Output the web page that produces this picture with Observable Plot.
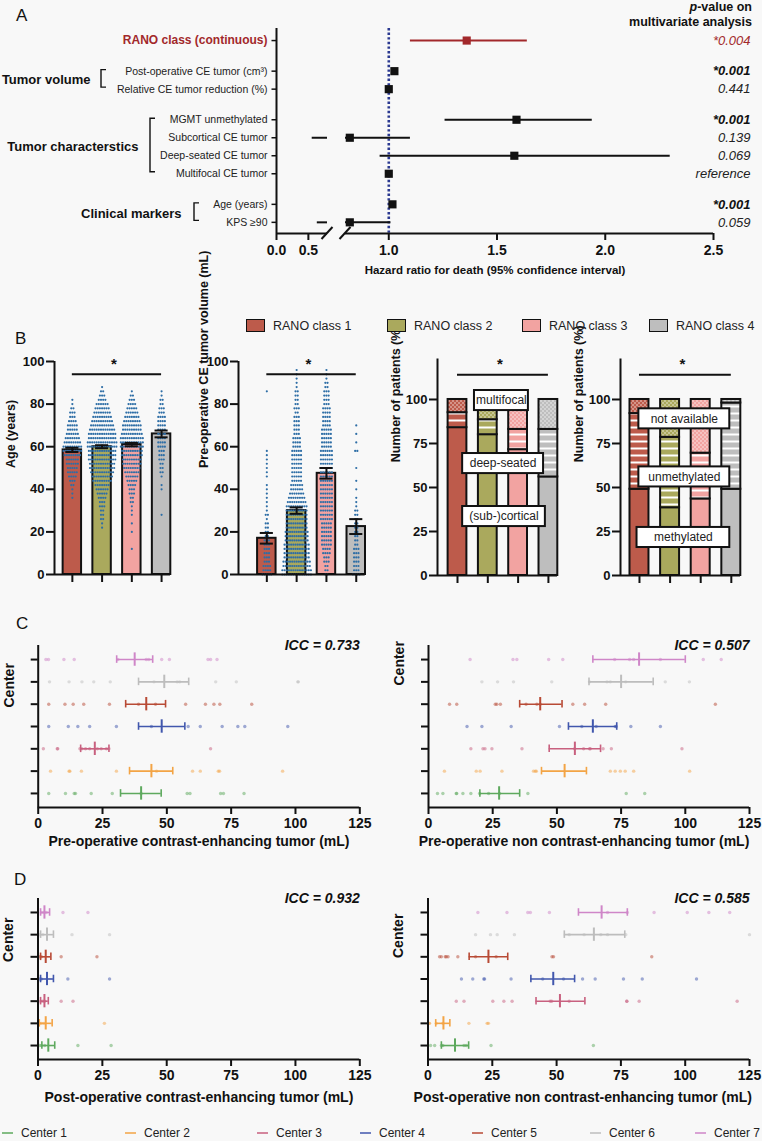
<!DOCTYPE html>
<html>
<head>
<meta charset="utf-8">
<script src="https://cdn.jsdelivr.net/npm/d3@7"></script>
<script src="https://cdn.jsdelivr.net/npm/@observablehq/plot@0.6"></script>
<style>
  html, body { margin: 0; padding: 0; background: #f8f8f8; }
  #fig { position: relative; width: 762px; height: 1141px; background: #f8f8f8; overflow: hidden;
         font-family: "Liberation Sans", Arial, Helvetica, sans-serif; color: #111; }
  .abs { position: absolute; white-space: nowrap; }
  .panel { font-size: 17px; line-height: 17px; }
</style>
</head>
<body>
<div id="fig"></div>
<script>
// ===================== DATA =====================
// ---- Panel A: multivariate Cox model ----
const rowLabels = ["RANO class (continuous)", "Post-operative CE tumor (cm³)", "Relative CE tumor reduction (%)",
  "MGMT unmethylated", "Subcortical CE tumor", "Deep-seated CE tumor", "Multifocal CE tumor", "Age (years)", "KPS ≥90"];
const rowGroups = ["RANO", "Tumor volume", "Tumor volume", "Tumor characterstics", "Tumor characterstics",
  "Tumor characterstics", "Tumor characterstics", "Clinical markers", "Clinical markers"];
const hazardRatio = [1.36, 1.026, 1.0, 1.59, 0.82, 1.58, 1.0, 1.017, 0.82];
const ciLower = [1.10, null, null, 1.26, 0.56, 0.96, null, null, 0.64];
const ciUpper = [1.64, null, null, 1.94, 1.10, 2.30, null, null, 1.01];
const pValues = ["*0.004", "*0.001", "0.441", "*0.001", "0.139", "0.069", "reference", "*0.001", "0.059"];
const hrTicks = [0, 0.5, 1.0, 1.5, 2.0, 2.5];

// ---- Panel B ----
const ranoClasses = ["RANO class 1", "RANO class 2", "RANO class 3", "RANO class 4"];
const ageMean = [58.5, 60, 61, 66];
const ageSem = [1.0, 0.7, 0.8, 1.6];
const ageBins = [12,14,16,18,20,22,24,26,28,30,32,34,36,38,40,42,44,46,48,50,52,54,56,58,60,62,64,66,68,70,72,74,76,78,80,82,84,86,88];
const ageCounts = [
  [0,0,0,0,0,0,0,0,0,0,0,0,1,1,1,2,3,4,5,5,6,6,8,9,9,8,7,6,5,5,4,3,3,2,1,1,0,0,0],
  [0,0,0,0,0,1,1,2,2,2,3,3,4,5,6,7,9,10,11,12,12,13,13,13,14,14,13,13,12,11,10,9,8,7,6,4,3,2,1],
  [1,0,0,0,1,0,1,0,1,1,1,2,2,3,3,4,5,6,7,8,9,9,10,10,11,11,11,10,9,9,8,7,6,5,4,3,2,1,0],
  [0,0,0,0,0,0,0,0,1,0,0,0,0,0,1,1,0,1,2,2,2,3,3,3,4,4,4,4,4,4,4,4,3,3,2,2,1,1,0]
];
const volMean = [17, 30, 47.5, 22.5];
const volSem = [2.5, 1.5, 2.5, 3.5];
const volBins = [0,2,4,6,8,10,12,14,16,18,20,22,24,26,28,30,32,34,36,38,40,42,44,46,48,50,52,54,56,58,60,62,64,66,68,70,72,74,76,78,80,82,84,86,88,90,92,94,96];
const volCounts = [
  [5,4,4,3,3,3,3,3,3,2,2,2,2,1,2,1,1,1,1,1,1,1,0,1,1,1,1,1,1,1,0,0,0,0,0,0,0,0,0,0,0,0,0,1,0,0,0,0,0],
  [14,14,13,13,12,12,12,12,11,11,11,10,10,10,10,10,10,9,8,7,6,6,5,5,5,5,5,5,5,5,4,4,4,3,3,3,3,3,2,3,2,2,2,2,1,1,1,1,1],
  [2,2,2,3,3,4,4,5,5,5,5,5,5,6,6,6,6,6,6,6,6,6,6,6,6,6,6,6,6,6,5,5,5,5,5,4,4,4,4,4,3,3,3,3,2,2,1,1,1],
  [4,3,3,3,3,3,3,2,2,2,2,2,2,2,2,2,1,1,1,0,1,0,1,0,0,1,0,0,0,2,0,1,0,1,0,1,0,0,0,0,0,0,0,0,0,0,0,0,0]
];
const locNames = ["(sub-)cortical", "deep-seated", "multifocal"];
const locCortical = [84, 80, 71.5, 56];
const locDeep = [8.5, 8.5, 11.5, 27];
const locMulti = [7.5, 11.5, 17, 17];
const mgmtNames = ["methylated", "unmethylated", "not available"];
const mgmtMeth = [49, 38.5, 43.5, 49];
const mgmtUnmeth = [43, 40, 26, 49];
const mgmtNA = [8, 21.5, 30.5, 2];

// ---- Panels C / D ----
const centers = ["Center 1", "Center 2", "Center 3", "Center 4", "Center 5", "Center 6", "Center 7"];
const volTicks = [0, 25, 50, 75, 100, 125];
const preCEPoints = [
  [4.1, 10.6, 14, 14.5, 20.6, 28.8, 40, 57.9, 59, 70.9, 72, 80],
  [4.8, 12, 12.3, 16.8, 30.4, 46, 60, 63, 70, 70.5, 95],
  [2, 7.4, 7.6, 16.2, 17, 18.4, 20, 23, 24.5, 26.5, 27.5, 67],
  [4.1, 11.7, 15.4, 20, 30.4, 44, 58.3, 63, 71.5, 77.6, 80.3, 97],
  [4.1, 10.4, 13.6, 17.7, 27.7, 39, 45.6, 57.3, 65, 68.3, 70.6, 83],
  [4.4, 12, 17, 21.6, 28, 45, 54, 55, 69, 77, 101, 101],
  [3, 4, 10, 14, 31, 42, 43, 48, 51, 66, 67, 69.5]
];
const preCEMean = [40, 44, 22, 48, 42, 49, 37.5];
const preCELow = [32, 35.5, 16.5, 39, 34, 39, 30.5];
const preCEHigh = [47.8, 52.3, 27.5, 57, 49.5, 58.5, 44.5];

const preNCEPoints = [
  [3.5, 5.6, 10.8, 11, 13.4, 16.5, 19.9, 23.4, 27.7, 38.7, 77, 84.2],
  [6.2, 18.6, 20.1, 28.6, 40.9, 41.6, 42, 70.8, 72.7, 74.7, 76.6, 79.9, 101.7],
  [16.5, 21.2, 22, 24.7, 36.4, 56.9, 60.4, 62.7, 63, 68, 71.2, 98.7],
  [15, 20.8, 32.2, 51, 59.7, 65.3, 72.7, 73.1, 78.8, 90.3],
  [8.2, 11, 26, 26.6, 28, 38, 42.2, 43.5, 56.2, 60.8, 69, 111.7],
  [20.8, 26.9, 33.1, 48, 62.7, 69.5, 70.8, 76.8, 92.2, 101.6],
  [16.2, 32.9, 34.4, 46.8, 52.3, 72.5, 78.3, 79.9, 90.3, 107, 114]
];
const preNCEMean = [27.5, 53, 57, 64, 43.5, 75, 82];
const preNCELow = [20, 44, 47, 54.5, 35.5, 62.5, 64];
const preNCEHigh = [35.5, 61.5, 67, 73.3, 52, 87.5, 100];

const postCEPoints = [
  [0.6, 1.3, 2.6, 15.5, 28.4],
  [0.6, 1.3, 2.3, 25.8],
  [1, 1.9, 2.6, 9, 13.6],
  [0.6, 1.3, 11.6, 27.8],
  [0.6, 1.3, 9, 22.9],
  [0.6, 1.9, 13.2, 27.8],
  [1.3, 2.3, 3.2, 9.7, 19.4]
];
const postCEMean = [4, 3, 2.5, 3.5, 3, 3.5, 2.5];
const postCELow = [1.5, 0.5, 1, 1, 1, 1, 1];
const postCEHigh = [6.5, 5.5, 4, 6, 5, 6, 4.5];

const postNCEPoints = [
  [1, 2.6, 5.2, 5.8, 14, 14.9, 24.5, 64.3],
  [0.4, 0.6, 3.2, 5.8, 15.9, 23, 23.5],
  [11, 14, 25.2, 29.5, 32.7, 47.5, 48.1, 54.9, 77.3, 77.3, 82.1, 120.2],
  [13, 17.4, 21.7, 22, 32.3, 44.6, 52.7, 60.1, 65, 76, 83.3, 104.4],
  [4.5, 5.2, 6.7, 7.1, 7.8, 11.6, 18.5, 26.5, 48.2, 48.8, 87],
  [18.5, 24.3, 26.9, 33.6, 54.9, 60.7, 67.2, 69.8, 76.9, 125],
  [19.4, 30.7, 38.8, 39.8, 47.2, 69.8, 77.5, 87.9, 100.8, 109.2, 117.3]
];
const postNCEMean = [10.5, 6, 51.3, 48.7, 23.5, 64.5, 67.5];
const postNCELow = [5.2, 3, 42, 40, 16, 53, 58.5];
const postNCEHigh = [15.8, 8.5, 61, 57, 31, 76.5, 77.5];

// ===================== STYLE =====================
const FONT = '"Liberation Sans", Arial, Helvetica, sans-serif';
const INK = "#111";
const RED = "#a2282b";
const classColors = ["#bd5b4b", "#aaa95d", "#f2a3a1", "#bebebe"];
const dotBlue = "#2e6ea6";
const centerColors = ["#5ea95e", "#f3a445", "#c8607f", "#4157ad", "#b84a35", "#bdbdbd", "#cf86c8"];
const baseStyle = {background: "transparent", fontFamily: FONT, color: INK, overflow: "visible"};

const fig = document.getElementById("fig");
function place(el, top) {
  el.style.position = "absolute"; el.style.left = "0px"; el.style.top = top + "px";
  fig.appendChild(el); return el;
}
function html(tag, cls, css, content) {
  const e = document.createElement(tag);
  if (cls) e.className = cls;
  Object.assign(e.style, css);
  e.innerHTML = content;
  fig.appendChild(e); return e;
}

// patterns (stripes / dots) for stacked bars
(function () {
  const ns = "http://www.w3.org/2000/svg";
  const svg = d3.create("svg").attr("width", 0).attr("height", 0).style("position", "absolute");
  const defs = svg.append("defs");
  classColors.forEach((c, i) => {
    const s = defs.append("pattern").attr("id", `stripe-${i}`).attr("patternUnits", "userSpaceOnUse")
      .attr("width", 8).attr("height", 7);
    s.append("rect").attr("width", 8).attr("height", 7).attr("fill", c);
    s.append("rect").attr("y", 2.5).attr("width", 8).attr("height", 2).attr("fill", "#fff");
    const d = defs.append("pattern").attr("id", `dots-${i}`).attr("patternUnits", "userSpaceOnUse")
      .attr("width", 4).attr("height", 4);
    d.append("rect").attr("width", 4).attr("height", 4).attr("fill", c);
    d.append("circle").attr("cx", 1).attr("cy", 1).attr("r", 0.75).attr("fill", "#fff").attr("fill-opacity", 0.85);
    d.append("circle").attr("cx", 3).attr("cy", 3).attr("r", 0.75).attr("fill", "#fff").attr("fill-opacity", 0.85);
  });
  document.body.appendChild(svg.node());
})();

// ===================== PANEL A =====================
const breakLo = 0.8, breakHi = 0.8001;
const rowPos = [];
rowLabels.forEach((l, i) => {
  rowPos.push(i === 0 ? 0 : rowPos[i - 1] + (rowGroups[i] !== rowGroups[i - 1] ? 1.7 : 1));
});
const rows = rowLabels.map((label, i) => ({i, label, group: rowGroups[i], pos: rowPos[i],
  hr: hazardRatio[i], lo: ciLower[i], hi: ciUpper[i], p: pValues[i]}));
const ciSegs = [];
rows.forEach(r => {
  if (r.lo == null) return;
  if (r.lo < breakLo && r.hi > breakLo) { ciSegs.push({...r, a: r.lo, b: breakLo}); ciSegs.push({...r, a: breakHi, b: r.hi}); }
  else ciSegs.push({...r, a: r.lo, b: r.hi});
});
const groupLayout = {
  "Tumor volume": {labelDx: -186, bracketDx: -175},
  "Tumor characterstics": {labelDx: -138, bracketDx: -126},
  "Clinical markers": {labelDx: -95, bracketDx: -82}
};
const groups = Object.keys(groupLayout).map(name => {
  const rs = rows.filter(r => r.group === name);
  return {name, first: rs[0].pos, last: rs[rs.length - 1].pos, mid: (rs[0].pos + rs[rs.length - 1].pos) / 2};
});
const yDomA = [-0.67, 10.72];

function aDecor(index, scales, values, dims) {
  const g = d3.create("svg:g").attr("fill", "none").attr("stroke", INK);
  const y0 = scales.y(yDomA[1]);
  for (const xv of [breakLo, breakHi]) {
    const x = scales.x(xv);
    g.append("line").attr("x1", x - 5.5).attr("y1", y0 + 6).attr("x2", x + 5.5).attr("y2", y0 - 6).attr("stroke-width", 2);
  }
  for (const gr of groups) {
    const x = dims.marginLeft + groupLayout[gr.name].bracketDx;
    const y1 = scales.y(gr.first) - 1, y2 = scales.y(gr.last) - 1.5;
    g.append("path").attr("stroke-width", 1.4).attr("d", `M${x + 5},${y1}H${x}V${y2}H${x + 5}`);
  }
  return g.node();
}

place(Plot.plot({
  width: 762, height: 290, marginTop: 28, marginBottom: 57, marginLeft: 276, marginRight: 49,
  style: baseStyle,
  x: {type: "linear", domain: [0, breakLo, breakHi, 2.5], range: [276, 327, 345, 713], axis: null, label: null},
  y: {domain: yDomA, reverse: true, axis: null, label: null},
  color: {type: "identity"},
  marks: [
    Plot.ruleX([1], {stroke: "#2b3990", strokeWidth: 2.6, strokeDasharray: "2.4,2.2"}),
    Plot.ruleX([0], {stroke: INK, strokeWidth: 2}),
    Plot.ruleY([[0, breakLo], [breakHi, 2.5]], {y: () => yDomA[1], x1: d => d[0], x2: d => d[1], stroke: INK, strokeWidth: 2}),
    aDecor,
    Plot.ruleY(ciSegs, {y: "pos", x1: "a", x2: "b", stroke: d => d.i === 0 ? RED : INK, strokeWidth: 2}),
    Plot.dot(rows, {x: "hr", y: "pos", symbol: "square", r: 4.6, fill: d => d.i === 0 ? RED : INK}),
    Plot.axisY({ticks: rowPos, tickSize: 4.5, tickFormat: () => "", strokeWidth: 1.5, label: null}),
    Plot.text(rows.filter(r => r.i > 0), {y: "pos", text: "label", frameAnchor: "left", dx: -9, textAnchor: "end",
      fontSize: 10.5, fill: "#222"}),
    Plot.text(rows.filter(r => r.i === 0), {y: "pos", text: "label", frameAnchor: "left", dx: -9, textAnchor: "end",
      fontSize: 12, fontWeight: "bold", fill: RED}),
    ...groups.map(gr => Plot.text([gr], {y: "mid", text: "name", frameAnchor: "left", dx: groupLayout[gr.name].labelDx,
      textAnchor: "end", fontSize: 13, fontWeight: "bold", fill: INK})),
    Plot.text(rows.filter(r => r.i === 0), {y: "pos", text: "p", frameAnchor: "right", dx: 37, textAnchor: "end",
      fontSize: 13, fontStyle: "italic", fill: RED}),
    Plot.text(rows.filter(r => r.i > 0 && r.p.startsWith("*")), {y: "pos", text: "p", frameAnchor: "right", dx: 37,
      textAnchor: "end", fontSize: 13, fontStyle: "italic", fontWeight: "bold", fill: INK}),
    Plot.text(rows.filter(r => r.i > 0 && !r.p.startsWith("*")), {y: "pos", text: "p", frameAnchor: "right", dx: 37,
      textAnchor: "end", fontSize: 13, fontStyle: "italic", fill: "#222"}),
    Plot.axisX({ticks: hrTicks, tickFormat: d3.format(".1f"), tickSize: 7, tickPadding: 5, strokeWidth: 2,
      fontSize: 14, fontWeight: "bold", label: null}),
    Plot.text(["Hazard ratio for death (95% confidence interval)"], {text: d => d, frameAnchor: "bottom", dy: 40,
      fontSize: 11.5, fontWeight: "bold"})
  ]
}), 0);

html("div", "abs panel", {left: "16px", top: "7px"}, "A");
html("div", "abs", {right: "10px", top: "0px", textAlign: "right", font: `bold 12.5px/15px ${FONT}`},
  "<i>p</i>-value on<br>multivariate analysis");

// ===================== PANEL B =====================
const hw = 0.31, cw = 0.22;
function swarm(bins, counts, pxPerUnit, spacingPx) {
  const out = [];
  counts.forEach((arr, ci) => arr.forEach((n, bi) => {
    for (let k = 0; k < n; k++) out.push({x: ci + 1 + (k - (n - 1) / 2) * spacingPx / pxPerUnit, v: bins[bi]});
  }));
  return out;
}
function barPanel({left, right, xDom, means, sems, bins, counts, yLabel, labelDx}) {
  const bars = ranoClasses.map((c, k) => ({i: k + 1, mean: means[k], se: sems[k], col: classColors[k]}));
  const caps = bars.flatMap(b => [{i: b.i, y: b.mean - b.se}, {i: b.i, y: b.mean + b.se}]);
  const pxPerUnit = (right - left) / (xDom[1] - xDom[0]);
  const pts = swarm(bins, counts, pxPerUnit, 2.2);
  return place(Plot.plot({
    width: 762, height: 260, marginTop: 21, marginBottom: 26, marginLeft: left, marginRight: 762 - right,
    style: baseStyle,
    x: {domain: xDom, axis: null, label: null},
    y: {domain: [0, 100], axis: null, label: null},
    color: {type: "identity"},
    marks: [
      Plot.rect(bars, {x1: d => d.i - hw, x2: d => d.i + hw, y1: 0, y2: "mean", fill: "col", stroke: INK, strokeWidth: 2}),
      Plot.dot(pts, {x: "x", y: "v", r: 1.1, fill: dotBlue}),
      Plot.ruleX(bars, {x: "i", y1: d => d.mean - d.se, y2: d => d.mean + d.se, stroke: INK, strokeWidth: 2}),
      Plot.ruleY(caps, {y: "y", x1: d => d.i - cw, x2: d => d.i + cw, stroke: INK, strokeWidth: 2}),
      Plot.ruleX([xDom[0]], {stroke: INK, strokeWidth: 2}),
      Plot.ruleY([0], {stroke: INK, strokeWidth: 2}),
      Plot.axisY({ticks: [0, 20, 40, 60, 80, 100], tickSize: 8, tickPadding: 2, strokeWidth: 2, fontSize: 13,
        fontWeight: "bold", label: null}),
      Plot.axisX({ticks: [1, 2, 3, 4], tickSize: 8, tickFormat: () => "", strokeWidth: 2, label: null}),
      Plot.ruleY([94], {x1: 1, x2: 4, stroke: INK, strokeWidth: 2}),
      Plot.text(["*"], {text: d => d, x: 2.5, y: 100, dx: -3, dy: 3, fontSize: 15, fontWeight: "bold"}),
      Plot.text([yLabel], {text: d => d, frameAnchor: "left", rotate: -90, dx: labelDx, fontSize: 12.5, fontWeight: "bold"})
    ]
  }), 340);
}
barPanel({left: 54, right: 170, xDom: [0.4, 4.3], means: ageMean, sems: ageSem, bins: ageBins, counts: ageCounts,
  yLabel: "Age (years)", labelDx: -44});
barPanel({left: 238, right: 364.7, xDom: [0.05, 4.3], means: volMean, sems: volSem, bins: volBins, counts: volCounts,
  yLabel: "Pre-operative CE tumor volume (mL)", labelDx: -35});

function stackPanel({left, right, xDom, parts, boxes}) {
  const segs = [];
  ranoClasses.forEach((c, k) => {
    let y = 0;
    parts.forEach((arr, s) => {
      segs.push({i: k + 1, s, y1: y, y2: y + arr[k],
        fill: s === 0 ? classColors[k] : `url(#${s === 1 ? "stripe" : "dots"}-${k})`});
      y += arr[k];
    });
  });
  return place(Plot.plot({
    width: 762, height: 260, marginTop: 18.5, marginBottom: 25, marginLeft: left, marginRight: 762 - right,
    style: baseStyle,
    x: {domain: xDom, axis: null, label: null},
    y: {domain: [0, 123], axis: null, label: null},
    color: {type: "identity"},
    marks: [
      Plot.rect(segs, {x1: d => d.i - hw, x2: d => d.i + hw, y1: "y1", y2: "y2", fill: "fill", stroke: INK, strokeWidth: 2}),
      Plot.rect(boxes, {x1: "x1", x2: "x2", y1: d => d.y - 5.7, y2: d => d.y + 5.7, fill: "white", stroke: INK, strokeWidth: 2}),
      Plot.text(boxes, {x: d => (d.x1 + d.x2) / 2, y: "y", text: "text", fontSize: 12, fill: "#222"}),
      Plot.ruleX([xDom[0]], {stroke: INK, strokeWidth: 2}),
      Plot.ruleY([0], {stroke: INK, strokeWidth: 2}),
      Plot.axisY({ticks: [0, 25, 50, 75, 100], tickSize: 8, tickPadding: 2, strokeWidth: 2, fontSize: 13,
        fontWeight: "bold", label: null}),
      Plot.axisX({ticks: [1, 2, 3, 4], tickSize: 8, tickFormat: () => "", strokeWidth: 2, label: null}),
      Plot.ruleY([114], {x1: 1, x2: 4, stroke: INK, strokeWidth: 2}),
      Plot.text(["*"], {text: d => d, x: 2.5, y: 122, dx: -3, dy: 3, fontSize: 15, fontWeight: "bold"}),
      Plot.text(["Number of patients (%)"], {text: d => d, frameAnchor: "left", rotate: -90, dx: -42, dy: -5,
        fontSize: 12.5, fontWeight: "bold"})
    ]
  }), 340);
}
stackPanel({left: 437, right: 557, xDom: [0.34, 4.3], parts: [locCortical, locDeep, locMulti],
  boxes: [{text: locNames[2], x1: 1.56, x2: 3.34, y: 99.4}, {text: locNames[1], x1: 1.17, x2: 3.84, y: 63.6},
          {text: locNames[0], x1: 1.17, x2: 3.9, y: 33.5}]});
stackPanel({left: 620, right: 740, xDom: [0.38, 4.3], parts: [mgmtMeth, mgmtUnmeth, mgmtNA],
  boxes: [{text: mgmtNames[2], x1: 0.98, x2: 3.95, y: 89}, {text: mgmtNames[1], x1: 0.98, x2: 3.95, y: 56},
          {text: mgmtNames[0], x1: 0.92, x2: 3.95, y: 21.6}]});

html("div", "abs panel", {left: "15px", top: "330px"}, "B");
const legendLeft = [246, 387, 522, 649];
ranoClasses.forEach((c, k) => {
  html("div", "abs", {left: legendLeft[k] + "px", top: "319px", width: "17px", height: "11px",
    background: classColors[k], border: "1.6px solid #111"}, "");
  html("div", "abs", {left: (legendLeft[k] + 27) + "px", top: "318px", font: `12.5px/16px ${FONT}`, color: "#222"}, c);
});

// ===================== PANELS C & D =====================
const yDomC = [0.37, 7.63];
function centerPanel({top, marginTop, marginBottom, left, right, points, means, lows, highs, icc, title,
                      labelDy, titleDx, titleDy}) {
  const stats = centers.map((c, k) => ({c: k + 1, mean: means[k], lo: lows[k], hi: highs[k], col: centerColors[k]}));
  const pts = points.flatMap((arr, k) => arr.map(v => ({c: k + 1, v, col: centerColors[k]})));
  const caps = stats.flatMap(s => [{c: s.c, v: s.lo, col: s.col}, {c: s.c, v: s.hi, col: s.col}]);
  return place(Plot.plot({
    width: 762, height: 270, marginTop, marginBottom, marginLeft: left, marginRight: 762 - right,
    style: baseStyle,
    x: {domain: [0, 125], axis: null, label: null},
    y: {domain: yDomC, axis: null, label: null},
    color: {type: "identity"},
    marks: [
      Plot.dot(pts, {x: "v", y: "c", r: 1.7, fill: "col", fillOpacity: 0.5}),
      Plot.ruleY(stats, {y: "c", x1: "lo", x2: "hi", stroke: "col", strokeWidth: 1.6}),
      Plot.ruleX(caps, {x: "v", y1: d => d.c - 0.17, y2: d => d.c + 0.17, stroke: "col", strokeWidth: 1.6}),
      Plot.ruleX(stats, {x: "mean", y1: d => d.c - 0.3, y2: d => d.c + 0.3, stroke: "col", strokeWidth: 2}),
      Plot.ruleX([0], {stroke: INK, strokeWidth: 2}),
      Plot.ruleY([yDomC[0]], {stroke: INK, strokeWidth: 2}),
      Plot.axisX({ticks: volTicks, tickSize: 7, tickPadding: 4, strokeWidth: 2, fontSize: 14, fontWeight: "bold", label: null}),
      Plot.axisY({ticks: [1, 2, 3, 4, 5, 6, 7], tickSize: 7, tickFormat: () => "", strokeWidth: 2, label: null}),
      Plot.text([icc], {text: d => d, frameAnchor: "top-right", textAnchor: "end", dy: -5, fontSize: 14,
        fontWeight: "bold", fontStyle: "italic"}),
      Plot.text(["Center"], {text: d => d, frameAnchor: "left", rotate: -90, dx: -29, dy: labelDy, fontSize: 14, fontWeight: "bold"}),
      Plot.text([title], {text: d => d, frameAnchor: "bottom", dy: titleDy, dx: titleDx, fontSize: 14, fontWeight: "bold"})
    ]
  }), top);
}
centerPanel({top: 600, marginTop: 45, marginBottom: 63, left: 37.7, right: 359.3, points: preCEPoints,
  means: preCEMean, lows: preCELow, highs: preCEHigh, icc: "ICC = 0.733",
  title: "Pre-operative contrast-enhancing tumor (mL)", labelDy: -19, titleDx: 0, titleDy: 38});
centerPanel({top: 600, marginTop: 45, marginBottom: 63, left: 428, right: 749, points: preNCEPoints,
  means: preNCEMean, lows: preNCELow, highs: preNCEHigh, icc: "ICC = 0.507",
  title: "Pre-operative non contrast-enhancing tumor (mL)", labelDy: -41, titleDx: -5, titleDy: 38});
centerPanel({top: 860, marginTop: 38, marginBottom: 71, left: 37.5, right: 359.3, points: postCEPoints,
  means: postCEMean, lows: postCELow, highs: postCEHigh, icc: "ICC = 0.932",
  title: "Post-operative contrast-enhancing tumor (mL)", labelDy: -17, titleDx: 0, titleDy: 42});
centerPanel({top: 860, marginTop: 38, marginBottom: 71, left: 427.5, right: 749, points: postNCEPoints,
  means: postNCEMean, lows: postNCELow, highs: postNCEHigh, icc: "ICC = 0.585",
  title: "Post-operative non contrast-enhancing tumor (mL)", labelDy: -21, titleDx: -6, titleDy: 42});

html("div", "abs panel", {left: "16px", top: "615px"}, "C");
html("div", "abs panel", {left: "14px", top: "871px"}, "D");

const centerLegendLeft = [2, 125, 257, 360, 472, 590, 695];
centers.forEach((c, k) => {
  html("div", "abs", {left: centerLegendLeft[k] + "px", top: "1132px", width: "11px", height: "1.6px",
    background: centerColors[k], opacity: 0.75}, "");
  html("div", "abs", {left: (centerLegendLeft[k] + 19) + "px", top: "1125px", font: `12px/16px ${FONT}`, color: "#222"}, c);
});
</script>
</body>
</html>
